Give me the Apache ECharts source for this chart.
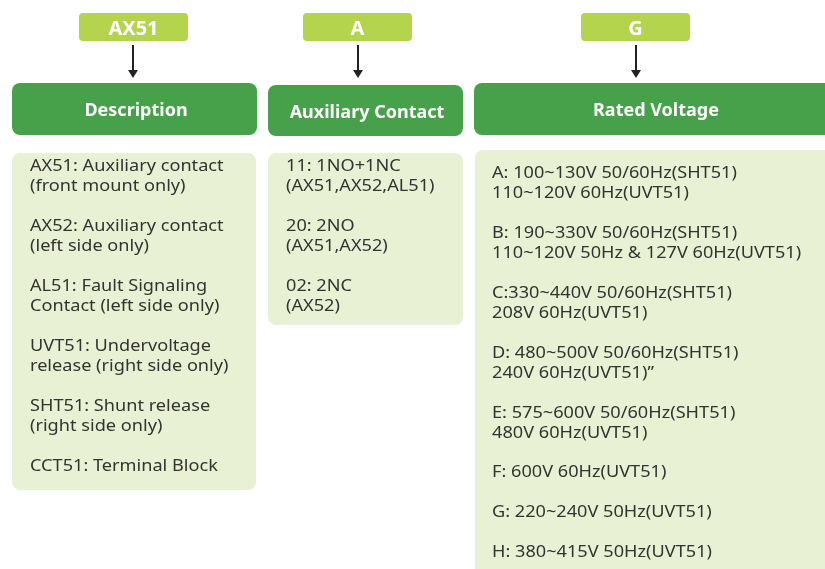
<!DOCTYPE html>
<html>
<head>
<meta charset="utf-8">
<script src="https://cdn.jsdelivr.net/npm/echarts@6/dist/echarts.min.js"></script>
<style>html,body{margin:0;padding:0;background:#fff}#c{width:825px;height:569px}</style>
</head>
<body>
<div id="c"></div>
<script>
// ---- data ----
var codes = ['AX51', 'A', 'G'];
var headers = ['Description', 'Auxiliary Contact', 'Rated Voltage'];
var descriptionItems = [
  ['AX51: Auxiliary contact', '(front mount only)'],
  ['AX52: Auxiliary contact', '(left side only)'],
  ['AL51: Fault Signaling', 'Contact (left side only)'],
  ['UVT51: Undervoltage', 'release (right side only)'],
  ['SHT51: Shunt release', '(right side only)'],
  ['CCT51: Terminal Block']
];
var contactItems = [
  ['11: 1NO+1NC', '(AX51,AX52,AL51)'],
  ['20: 2NO', '(AX51,AX52)'],
  ['02: 2NC', '(AX52)']
];
var voltageItems = [
  ['A: 100~130V 50/60Hz(SHT51)', '110~120V 60Hz(UVT51)'],
  ['B: 190~330V 50/60Hz(SHT51)', '110~120V 50Hz & 127V 60Hz(UVT51)'],
  ['C:330~440V 50/60Hz(SHT51)', '208V 60Hz(UVT51)'],
  ['D: 480~500V 50/60Hz(SHT51)', '240V 60Hz(UVT51)\u201d'],
  ['E: 575~600V 50/60Hz(SHT51)', '480V 60Hz(UVT51)'],
  ['F: 600V 60Hz(UVT51)'],
  ['G: 220~240V 50Hz(UVT51)'],
  ['H: 380~415V 50Hz(UVT51)']
];
var contentLists = [descriptionItems, contactItems, voltageItems];

// ---- layout ----
var FONT = '"Noto Sans", sans-serif';
var columns = [
  {codeX: 79, codeW: 109, arrowX: 133, headX: 12, headW: 245, headY: 83, headH: 52, headCx: 136, headCy: 111,
   boxX: 12, boxY: 153, boxW: 244, boxH: 337, textX: 30, textY: 166},
  {codeX: 303, codeW: 109, arrowX: 358, headX: 268, headW: 195, headY: 85, headH: 51, headCx: 367, headCy: 113,
   boxX: 268, boxY: 153, boxW: 195, boxH: 172, textX: 286, textY: 166},
  {codeX: 581, codeW: 109, arrowX: 636, headX: 474, headW: 362, headY: 83, headH: 52, headCx: 656, headCy: 111,
   boxX: 475, boxY: 150, boxW: 360, boxH: 440, textX: 492, textY: 173}
];
var LINE_H = 20;
var STRETCH = 1.1;

var els = [];
columns.forEach(function (c, i) {
  // code badge
  els.push({type: 'rect', shape: {x: c.codeX, y: 13, width: c.codeW, height: 28, r: 4},
    style: {fill: '#b3d44c'}});
  els.push({type: 'text', x: c.codeX + c.codeW / 2, y: 29, style: {text: codes[i],
    align: 'center', verticalAlign: 'middle', fill: '#fff',
    font: 'bold 20px ' + FONT}});
  // arrow
  els.push({type: 'line', shape: {x1: c.arrowX, y1: 45, x2: c.arrowX, y2: 71},
    style: {stroke: '#222', lineWidth: 2}});
  els.push({type: 'polygon', shape: {points: [[c.arrowX - 5, 70], [c.arrowX + 5, 70], [c.arrowX, 78]]},
    style: {fill: '#222'}});
  // header
  els.push({type: 'rect', shape: {x: c.headX, y: c.headY, width: c.headW, height: c.headH, r: 8},
    style: {fill: '#46a14a'}});
  els.push({type: 'text', x: c.headCx, y: c.headCy, style: {text: headers[i],
    align: 'center', verticalAlign: 'middle', fill: '#fff',
    font: 'bold 18px ' + FONT}});
  // content box
  els.push({type: 'rect', shape: {x: c.boxX, y: c.boxY, width: c.boxW, height: c.boxH, r: 8},
    style: {fill: '#e8f1d3'}});
  contentLists[i].forEach(function (item, k) {
    var yy = c.textY + k * 60;
    if (i === 2 && k >= 5) yy = c.textY + 5 * 60 - 1 + (k - 5) * 40;
    item.forEach(function (line, j) {
      els.push({type: 'text', x: c.textX, y: yy + j * LINE_H, scaleX: STRETCH,
        style: {text: line, align: 'left', verticalAlign: 'middle', fill: '#333',
        font: '16.5px ' + FONT}});
    });
  });
});

var chart = echarts.init(document.getElementById('c'));
chart.setOption({animation: false, graphic: {elements: els}});
</script>
</body>
</html>
